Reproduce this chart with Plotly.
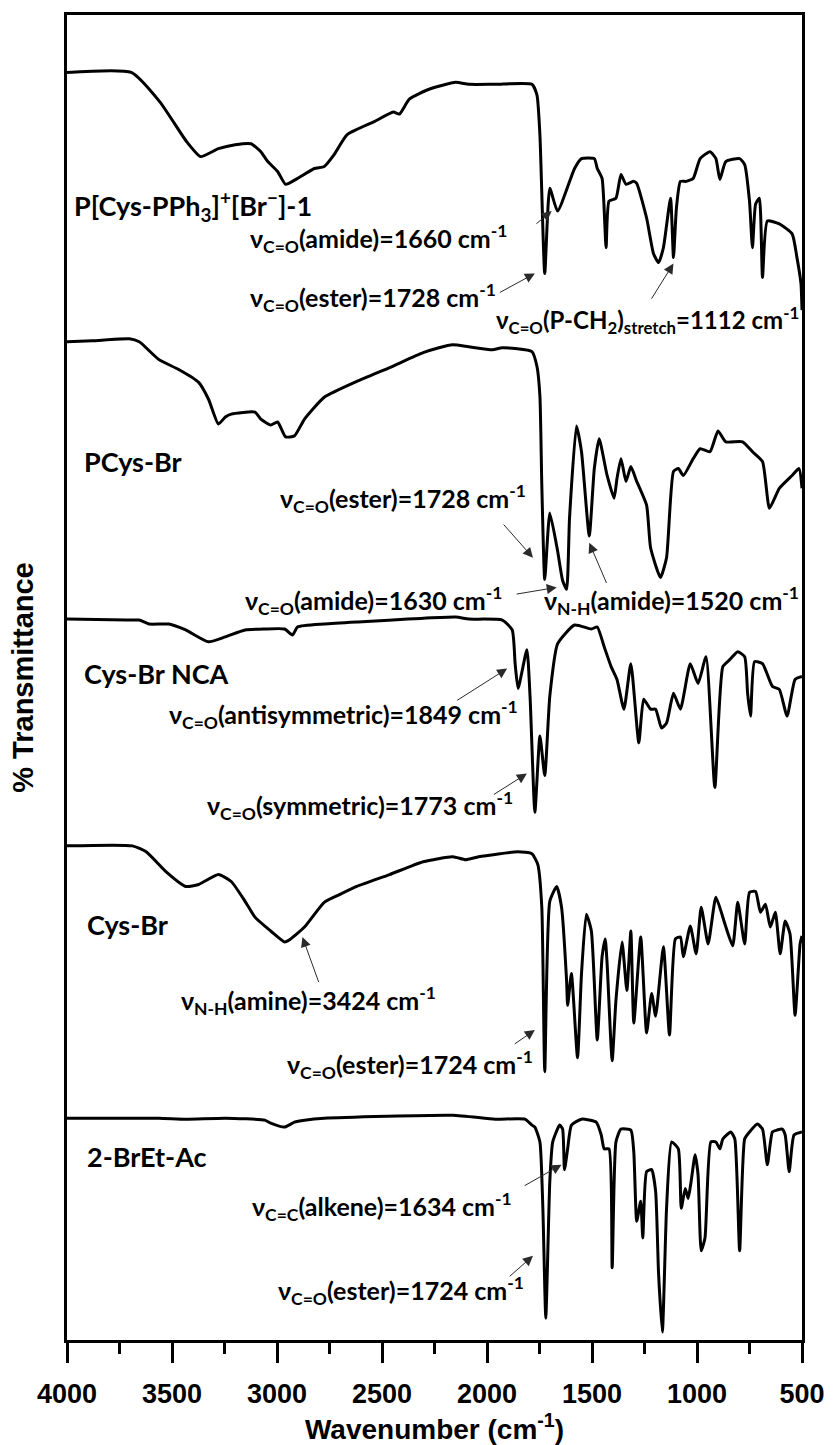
import plotly.graph_objects as go

# ---------------- data (wavenumber in cm-1, offset transmittance in plot units) ----------------
wn_pph3 = [4000, 3694, 3557, 3430, 3364, 3279, 3199, 3124, 3077, 3044, 2997, 2959, 2902, 2822, 2775,
           2728, 2667, 2540, 2446, 2417, 2370, 2276, 2149, 2087, 1960, 1786, 1762, 1748, 1725, 1701,
           1664, 1583, 1550, 1489, 1475, 1452, 1433, 1419, 1386, 1362, 1338, 1301, 1287, 1240, 1207,
           1183, 1160, 1126, 1112, 1098, 1079, 1051, 1018, 985, 938, 910, 891, 863, 797, 773, 750,
           736, 721, 703, 688, 665, 608, 547, 524, 505, 500]
t_pph3 = [1280, 1280, 1250, 1210, 1195, 1203, 1207, 1208, 1200, 1190, 1180, 1167, 1173, 1183, 1185,
          1197, 1217, 1230, 1240, 1238, 1253, 1263, 1270, 1268, 1268, 1268, 1257, 1217, 1077, 1163,
          1140, 1183, 1193, 1193, 1183, 1173, 1103, 1150, 1153, 1177, 1167, 1170, 1168, 1133, 1097,
          1088, 1103, 1153, 1093, 1143, 1170, 1170, 1173, 1193, 1200, 1193, 1172, 1190, 1193, 1187, 1150,
          1103, 1147, 1153, 1073, 1130, 1127, 1117, 1093, 1067, 1040]

wn_pcys = [4000, 3878, 3703, 3656, 3562, 3468, 3373, 3326, 3279, 3246, 3218, 3105, 3077, 3030, 2997,
           2959, 2917, 2869, 2775, 2620, 2464, 2304, 2229, 2163, 2087, 1974, 1927, 1786, 1762, 1748,
           1739, 1725, 1701, 1664, 1640, 1621, 1607, 1574, 1550, 1513, 1489, 1466, 1428, 1395, 1381,
           1362, 1338, 1315, 1287, 1240, 1221, 1174, 1145, 1112, 1089, 1065, 1018, 985, 938, 900, 863,
           783, 736, 688, 655, 608, 547, 514, 500]
t_pcys = [1008, 1009, 1011, 1008, 990, 980, 967, 950, 925, 932, 935, 937, 930, 924, 927,
          912, 913, 930, 952, 968, 982, 997, 1002, 1005, 1003, 1000, 1002, 998, 983, 953,
          863, 768, 835, 797, 767, 758, 830, 923, 897, 812, 880, 910, 873, 850, 870,
          890, 867, 882, 867, 843, 800, 770, 790, 877, 880, 873, 890, 900, 897, 918, 907,
          907, 897, 887, 840, 860, 873, 880, 860]

wn_nca = [4000, 3717, 3656, 3609, 3515, 3435, 3326, 3246, 3152, 3058, 2964, 2926, 2902, 2775, 2620,
          2149, 2087, 1927, 1880, 1866, 1852, 1810, 1795, 1772, 1748, 1725, 1701, 1664, 1583, 1503,
          1475, 1442, 1409, 1381, 1348, 1315, 1277, 1254, 1221, 1197, 1169, 1145, 1112, 1079, 1032,
          995, 957, 915, 877, 844, 806, 773, 759, 745, 726, 688, 641, 608, 571, 533, 500]
t_nca = [728, 727, 727, 723, 723, 717, 705, 710, 717, 718, 718, 712, 720, 723, 725,
         730, 728, 727, 717, 683, 658, 697, 650, 533, 610, 570, 650, 703, 722, 718,
         720, 700, 680, 667, 637, 683, 603, 647, 637, 637, 618, 623, 653, 637, 683,
         663, 690, 558, 680, 687, 695, 690, 653, 630, 685, 683, 660, 657, 630, 667, 670]

wn_cys = [4000, 3689, 3623, 3529, 3435, 3373, 3279, 3218, 3152, 3105, 3030, 2964, 2935, 2869, 2775,
          2700, 2620, 2464, 2304, 2163, 2102, 2040, 1852, 1786, 1758, 1739, 1725, 1701, 1668, 1645,
          1621, 1616, 1598, 1569, 1550, 1527, 1503, 1475, 1452, 1437, 1428, 1404, 1386, 1357, 1334,
          1315, 1301, 1268, 1240, 1216, 1197, 1160, 1131, 1103, 1079, 1065, 1032, 1004, 980, 947,
          910, 867, 830, 806, 773, 750, 721, 698, 674, 651, 627, 604, 580, 557, 533, 509, 500]
t_cys = [499, 499, 493, 473, 458, 460, 470, 463, 443, 427, 413, 402, 405, 417, 442,
         450, 458, 470, 483, 488, 485, 488, 493, 491, 480, 437, 271, 443, 458, 437,
         363, 338, 370, 285, 370, 430, 413, 303, 387, 405, 380, 282, 343, 402, 353,
         413, 320, 407, 310, 350, 327, 397, 308, 405, 407, 387, 418, 390, 437, 400,
         447, 420, 398, 442, 400, 452, 453, 432, 440, 417, 432, 390, 423, 410, 328, 400, 408]

wn_brea = [4000, 3562, 3435, 3246, 3058, 3030, 2964, 2917, 2869, 2775, 2163, 1960, 1819, 1786, 1772,
           1748, 1734, 1720, 1701, 1687, 1654, 1640, 1631, 1616, 1598, 1550, 1480, 1456, 1442, 1419,
           1404, 1386, 1362, 1315, 1301, 1287, 1268, 1258, 1240, 1216, 1197, 1183, 1165, 1145, 1121,
           1089, 1075, 1056, 1042, 1028, 1009, 995, 980, 962, 934, 910, 891, 877, 839, 820, 797,
           773, 750, 712, 688, 665, 641, 618, 594, 580, 561, 538, 500]
t_brea = [224, 224, 223, 224, 222, 219, 215, 220, 222, 224, 227, 223, 223, 217, 215,
          200, 133, 22, 160, 200, 217, 213, 172, 193, 217, 223, 220, 207, 193, 193,
          73, 200, 213, 212, 190, 120, 140, 103, 170, 172, 150, 67, 8, 133, 200,
          193, 133, 153, 143, 160, 187, 167, 90, 103, 200, 200, 193, 203, 210, 203, 90,
          203, 210, 218, 213, 177, 210, 212, 213, 207, 170, 207, 210]

series = [(wn_pph3, t_pph3), (wn_pcys, t_pcys), (wn_nca, t_nca), (wn_cys, t_cys), (wn_brea, t_brea)]

x_ticks = [4000, 3500, 3000, 2500, 2000, 1500, 1000, 500]

# sample names: (text, x, y)
names = [
    ("P[Cys-PPh<sub>3</sub>]<sup>+</sup>[Br<sup>\u2212</sup>]-1", 3976, 1145),
    ("PCys-Br", 3929, 887),
    ("Cys-Br NCA", 3929, 673),
    ("Cys-Br", 3915, 420),
    ("2-BrEt-Ac", 3915, 185),
]

# band labels: (text, x, y, arrow_tail_x, arrow_tail_y, arrow_head_x, arrow_head_y, font size)
bands = [
    ("\u03bd<sub>C=O</sub>(amide)=1660 cm<sup>-1</sup>", 3138, 1112, 1772, 1126, 1692, 1140, 25),
    ("\u03bd<sub>C=O</sub>(ester)=1728 cm<sup>-1</sup>", 3138, 1053, 1946, 1057, 1772, 1077, 25),
    ("\u03bd<sub>C=O</sub>(P-CH<sub>2</sub>)<sub>stretch</sub>=1112 cm<sup>-1</sup>", 1965, 1030, 1221, 1050, 1112, 1087, 24),
    ("\u03bd<sub>C=O</sub>(ester)=1728 cm<sup>-1</sup>", 2997, 850, 1927, 825, 1781, 790, 25),
    ("\u03bd<sub>C=O</sub>(amide)=1630 cm<sup>-1</sup>", 3162, 747, 1866, 753, 1668, 760, 25),
    ("\u03bd<sub>N-H</sub>(amide)=1520 cm<sup>-1</sup>", 1739, 747, 1428, 763, 1513, 805, 25),
    ("\u03bd<sub>C=O</sub>(antisymmetric)=1849 cm<sup>-1</sup>", 3524, 632, 2149, 645, 1904, 678, 25),
    ("\u03bd<sub>C=O</sub>(symmetric)=1773 cm<sup>-1</sup>", 3341, 540, 1974, 550, 1810, 572, 25),
    ("\u03bd<sub>N-H</sub>(amine)=3424 cm<sup>-1</sup>", 3468, 343, 2799, 360, 2879, 407, 25),
    ("\u03bd<sub>C=O</sub>(ester)=1724 cm<sup>-1</sup>", 2964, 278, 1875, 298, 1772, 313, 25),
    ("\u03bd<sub>C=C</sub>(alkene)=1634 cm<sup>-1</sup>", 3129, 135, 1828, 155, 1645, 177, 25),
    ("\u03bd<sub>C=O</sub>(ester)=1724 cm<sup>-1</sup>", 3006, 50, 1899, 63, 1781, 85, 25),
]

# ---------------- figure ----------------
fig = go.Figure()
for wn, t in series:
    fig.add_trace(go.Scatter(x=wn, y=t, mode="lines",
                             line=dict(color="black", width=3, shape="spline", smoothing=0.5),
                             showlegend=False, hoverinfo="skip"))

FAMILY = "Lato, Noto Sans, sans-serif"
name_font = dict(family=FAMILY, size=27, color="black")

annotations = []
for txt, x, y in names:
    annotations.append(dict(x=x, y=y, xref="x", yref="y", text="<b>" + txt + "</b>",
                            showarrow=False, xanchor="left", yanchor="middle", font=name_font))
for txt, x, y, tx, ty, hx, hy, fs in bands:
    annotations.append(dict(x=x, y=y, xref="x", yref="y", text="<b>" + txt + "</b>",
                            showarrow=False, xanchor="left", yanchor="middle",
                            font=dict(family=FAMILY, size=fs, color="black")))
    annotations.append(dict(x=hx, y=hy, xref="x", yref="y", ax=tx, ay=ty, axref="x", ayref="y",
                            text="", showarrow=True, arrowhead=2, arrowsize=2, arrowwidth=1,
                            arrowcolor="#2a2a2a"))

fig.update_layout(
    width=837, height=1445,
    margin=dict(l=67, r=27, t=12, b=95),
    paper_bgcolor="white", plot_bgcolor="white",
    annotations=annotations,
    xaxis=dict(range=[4000, 500], tickvals=x_ticks, ticktext=[str(v) for v in x_ticks],
               showline=True, linecolor="black", linewidth=3, mirror=True,
               ticks="outside", ticklen=20, tickwidth=3, tickcolor="black",
               minor=dict(dtick=250, tick0=0, ticks="outside", ticklen=11, tickwidth=3, tickcolor="black"),
               showgrid=False, zeroline=False, ticklabelstandoff=8,
               tickfont=dict(family="Liberation Sans, Arial, sans-serif", size=27, color="black", weight="bold"),
               title=dict(text="Wavenumber (cm<sup>-1</sup>)", standoff=4,
                          font=dict(family="Liberation Sans, Arial, sans-serif", size=28, color="black", weight="bold"))),
    yaxis=dict(range=[0, 1338], showline=True, linecolor="black", linewidth=3, mirror=True,
               ticks="", showticklabels=False, showgrid=False, zeroline=False,
               title=dict(text="% Transmittance", standoff=22,
                          font=dict(family="Liberation Sans, Arial, sans-serif", size=29, color="black", weight="bold"))),
)

fig.write_html("out.html")
